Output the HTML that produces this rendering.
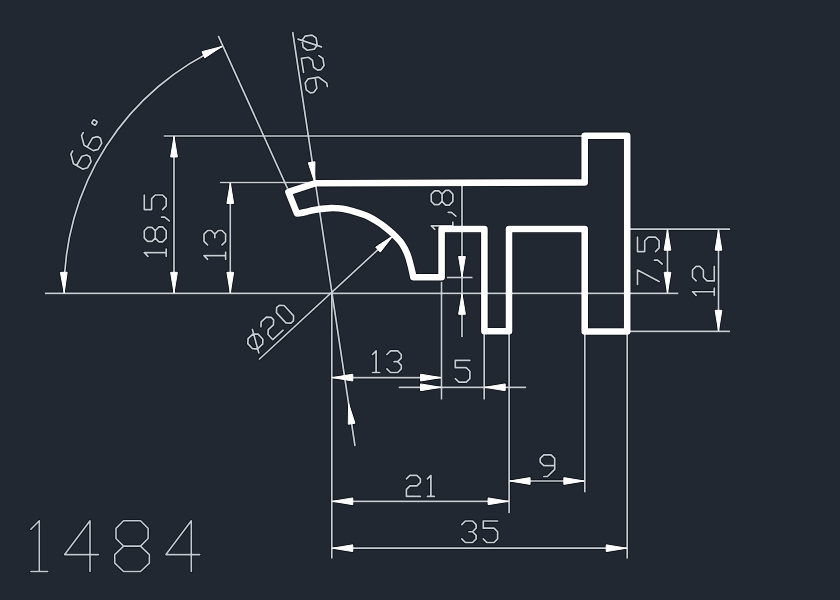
<!DOCTYPE html>
<html><head><meta charset="utf-8"><style>
html,body{margin:0;padding:0;background:#212832;}
body{width:840px;height:600px;overflow:hidden;font-family:"Liberation Sans",sans-serif;}
svg{display:block;}
</style></head><body>
<svg width="840" height="600" viewBox="0 0 840 600">
<rect width="840" height="600" fill="#212832"/>
<g><line x1="45.00" y1="293.30" x2="678.30" y2="293.30" stroke="#0b0e14" stroke-width="3.3"/>
<path d="M64.2,293.3 A266.5,266.5 0 0 1 222.5,46.25" fill="none" stroke="#0b0e14" stroke-width="3.3"/>
<path d="M64.19,292.80 L60.38,272.37 L67.18,272.24 Z" fill="#0b0e14" stroke="#0b0e14" stroke-width="2.6" stroke-linejoin="round"/>
<path d="M222.04,46.45 L204.69,57.89 L201.93,51.67 Z" fill="#0b0e14" stroke="#0b0e14" stroke-width="2.6" stroke-linejoin="round"/>
<line x1="218.30" y1="35.80" x2="287.60" y2="188.60" stroke="#0b0e14" stroke-width="3.3"/>
<path d="M72.62,150.98 L70.85,154.05 L73.45,163.75 L82.67,169.07 L87.52,167.78 L91.07,161.63 L89.77,156.78 L86.70,155.00 L81.85,156.30 L76.52,165.52 M83.28,132.53 L81.50,135.60 L84.10,145.30 L93.32,150.63 L98.17,149.33 L101.72,143.18 L100.42,138.33 L97.35,136.56 L92.50,137.86 L87.17,147.08 M91.88,122.74 L93.41,120.10 L94.23,119.88 L96.87,121.40 L97.09,122.23 L95.57,124.87 L94.74,125.09 L92.10,123.57 L91.88,122.74" fill="none" stroke="#0b0e14" stroke-width="3.3" stroke-linejoin="round" stroke-linecap="round"/>
<line x1="292.70" y1="32.00" x2="355.00" y2="446.00" stroke="#0b0e14" stroke-width="3.3"/>
<path d="M314.68,182.51 L308.26,162.74 L314.99,161.73 Z" fill="#0b0e14" stroke="#0b0e14" stroke-width="2.6" stroke-linejoin="round"/>
<path d="M348.57,403.49 L354.99,423.26 L348.26,424.27 Z" fill="#0b0e14" stroke="#0b0e14" stroke-width="2.6" stroke-linejoin="round"/>
<path d="M316.14,38.06 L317.24,45.07 L314.28,49.13 L307.27,50.23 L303.21,47.27 L302.11,40.25 L305.07,36.20 L312.09,35.10 L316.14,38.06 M297.98,39.10 L321.48,46.92 M318.89,55.59 L322.94,58.55 L324.04,65.57 L321.08,69.62 L317.58,70.17 L313.52,67.21 L312.42,60.20 L308.37,57.24 L301.35,58.34 L303.55,72.37 M327.34,86.61 L326.79,83.10 L318.68,77.19 L308.15,78.83 L305.20,82.89 L306.29,89.90 L310.35,92.86 L313.86,92.31 L316.82,88.26 L315.17,77.73" fill="none" stroke="#0b0e14" stroke-width="3.3" stroke-linejoin="round" stroke-linecap="round"/>
<line x1="393.40" y1="235.40" x2="259.00" y2="359.50" stroke="#0b0e14" stroke-width="3.3"/>
<path d="M393.03,235.74 L380.28,252.14 L375.66,247.15 Z" fill="#0b0e14" stroke="#0b0e14" stroke-width="2.6" stroke-linejoin="round"/>
<path d="M248.05,338.62 L253.21,333.89 L258.15,334.10 L262.88,339.26 L262.66,344.21 L257.50,348.94 L252.56,348.72 L247.83,343.56 L248.05,338.62 M258.81,352.96 L252.41,329.39 M260.95,326.79 L261.16,321.85 L266.32,317.12 L271.27,317.33 L273.63,319.92 L273.42,324.86 L268.26,329.59 L268.04,334.53 L272.77,339.70 L283.09,330.24 M276.65,307.66 L279.23,305.30 L284.17,305.51 L293.63,315.83 L293.41,320.78 L290.83,323.14 L285.89,322.93 L276.43,312.61 L276.65,307.66" fill="none" stroke="#0b0e14" stroke-width="3.3" stroke-linejoin="round" stroke-linecap="round"/>
<line x1="163.75" y1="136.00" x2="582.00" y2="136.00" stroke="#0b0e14" stroke-width="3.3"/>
<line x1="174.00" y1="136.00" x2="174.00" y2="293.30" stroke="#0b0e14" stroke-width="3.3"/>
<path d="M174.00,136.50 L177.40,157.00 L170.60,157.00 Z" fill="#0b0e14" stroke="#0b0e14" stroke-width="2.6" stroke-linejoin="round"/>
<path d="M174.00,292.80 L170.60,272.30 L177.40,272.30 Z" fill="#0b0e14" stroke="#0b0e14" stroke-width="2.6" stroke-linejoin="round"/>
<path d="M147.95,256.30 L144.30,252.65 L166.20,252.65 M166.20,256.30 L166.20,249.00 M155.25,238.05 L151.97,241.34 L147.59,241.34 L144.30,238.05 L144.30,230.75 L147.59,227.47 L151.97,227.47 L155.25,230.75 L155.25,238.05 L158.90,241.88 L162.55,241.88 L166.20,238.05 L166.20,230.75 L162.55,226.92 L158.90,226.92 L155.25,230.75 M161.46,217.06 L164.74,217.06 L169.30,220.90 M144.30,194.98 L144.30,209.58 L151.60,209.58 L151.60,198.63 L155.25,194.98 L162.55,194.98 L166.20,198.63 L166.20,205.93 L162.55,209.58" fill="none" stroke="#0b0e14" stroke-width="3.3" stroke-linejoin="round" stroke-linecap="round"/>
<line x1="220.00" y1="182.50" x2="314.00" y2="182.50" stroke="#0b0e14" stroke-width="3.3"/>
<line x1="230.30" y1="182.50" x2="230.30" y2="293.30" stroke="#0b0e14" stroke-width="3.3"/>
<path d="M230.30,183.00 L233.70,203.50 L226.90,203.50 Z" fill="#0b0e14" stroke="#0b0e14" stroke-width="2.6" stroke-linejoin="round"/>
<path d="M230.30,292.80 L226.90,272.30 L233.70,272.30 Z" fill="#0b0e14" stroke="#0b0e14" stroke-width="2.6" stroke-linejoin="round"/>
<path d="M207.60,259.30 L204.00,255.70 L225.60,255.70 M225.60,259.30 L225.60,252.10 M207.60,244.90 L204.00,241.30 L204.00,234.10 L207.60,230.50 L211.20,230.50 L214.80,234.10 L218.40,230.50 L222.00,230.50 L225.60,234.10 L225.60,241.30 L222.00,244.90 M214.80,237.70 L214.80,234.10" fill="none" stroke="#0b0e14" stroke-width="3.3" stroke-linejoin="round" stroke-linecap="round"/>
<line x1="446.90" y1="277.50" x2="472.50" y2="277.50" stroke="#0b0e14" stroke-width="3.3"/>
<line x1="462.00" y1="185.00" x2="462.00" y2="336.90" stroke="#0b0e14" stroke-width="3.3"/>
<path d="M462.00,277.00 L458.60,256.50 L465.40,256.50 Z" fill="#0b0e14" stroke="#0b0e14" stroke-width="2.6" stroke-linejoin="round"/>
<path d="M462.00,293.80 L465.40,314.30 L458.60,314.30 Z" fill="#0b0e14" stroke="#0b0e14" stroke-width="2.6" stroke-linejoin="round"/>
<path d="M434.85,229.40 L431.25,225.80 L452.85,225.80 M452.85,229.40 L452.85,222.20 M448.17,212.30 L451.41,212.30 L455.91,216.08 M442.05,201.32 L438.81,204.56 L434.49,204.56 L431.25,201.32 L431.25,194.12 L434.49,190.88 L438.81,190.88 L442.05,194.12 L442.05,201.32 L445.65,205.10 L449.25,205.10 L452.85,201.32 L452.85,194.12 L449.25,190.34 L445.65,190.34 L442.05,194.12" fill="none" stroke="#0b0e14" stroke-width="3.3" stroke-linejoin="round" stroke-linecap="round"/>
<line x1="629.40" y1="229.20" x2="730.00" y2="229.20" stroke="#0b0e14" stroke-width="3.3"/>
<line x1="630.00" y1="331.30" x2="730.00" y2="331.30" stroke="#0b0e14" stroke-width="3.3"/>
<line x1="667.50" y1="229.20" x2="667.50" y2="293.30" stroke="#0b0e14" stroke-width="3.3"/>
<path d="M667.50,229.70 L670.90,250.20 L664.10,250.20 Z" fill="#0b0e14" stroke="#0b0e14" stroke-width="2.6" stroke-linejoin="round"/>
<path d="M667.50,292.80 L664.10,272.30 L670.90,272.30 Z" fill="#0b0e14" stroke="#0b0e14" stroke-width="2.6" stroke-linejoin="round"/>
<path d="M637.50,284.50 L637.50,270.10 L659.10,281.62 M654.42,260.20 L657.66,260.20 L662.16,263.98 M637.50,237.16 L637.50,251.56 L644.70,251.56 L644.70,240.76 L648.30,237.16 L655.50,237.16 L659.10,240.76 L659.10,247.96 L655.50,251.56" fill="none" stroke="#0b0e14" stroke-width="3.3" stroke-linejoin="round" stroke-linecap="round"/>
<line x1="718.50" y1="229.20" x2="718.50" y2="331.30" stroke="#0b0e14" stroke-width="3.3"/>
<path d="M718.50,229.70 L721.90,250.20 L715.10,250.20 Z" fill="#0b0e14" stroke="#0b0e14" stroke-width="2.6" stroke-linejoin="round"/>
<path d="M718.50,330.80 L715.10,310.30 L721.90,310.30 Z" fill="#0b0e14" stroke="#0b0e14" stroke-width="2.6" stroke-linejoin="round"/>
<path d="M696.13,295.40 L692.50,291.77 L714.28,291.77 M714.28,295.40 L714.28,288.14 M696.13,280.88 L692.50,277.25 L692.50,269.99 L696.13,266.36 L699.76,266.36 L703.39,269.99 L703.39,277.25 L707.02,280.88 L714.28,280.88 L714.28,266.36" fill="none" stroke="#0b0e14" stroke-width="3.3" stroke-linejoin="round" stroke-linecap="round"/>
<line x1="331.80" y1="293.30" x2="331.80" y2="558.60" stroke="#0b0e14" stroke-width="3.3"/>
<line x1="441.50" y1="281.90" x2="441.50" y2="399.50" stroke="#0b0e14" stroke-width="3.3"/>
<line x1="484.20" y1="334.00" x2="484.20" y2="399.50" stroke="#0b0e14" stroke-width="3.3"/>
<line x1="509.10" y1="334.00" x2="509.10" y2="512.90" stroke="#0b0e14" stroke-width="3.3"/>
<line x1="584.80" y1="334.00" x2="584.80" y2="492.30" stroke="#0b0e14" stroke-width="3.3"/>
<line x1="627.20" y1="334.00" x2="627.20" y2="558.60" stroke="#0b0e14" stroke-width="3.3"/>
<line x1="331.80" y1="377.60" x2="441.50" y2="377.60" stroke="#0b0e14" stroke-width="3.3"/>
<path d="M332.30,377.60 L352.80,374.20 L352.80,381.00 Z" fill="#0b0e14" stroke="#0b0e14" stroke-width="2.6" stroke-linejoin="round"/>
<path d="M441.00,377.60 L420.50,381.00 L420.50,374.20 Z" fill="#0b0e14" stroke="#0b0e14" stroke-width="2.6" stroke-linejoin="round"/>
<path d="M372.50,354.50 L376.10,350.90 L376.10,372.50 M372.50,372.50 L379.70,372.50 M386.90,354.50 L390.50,350.90 L397.70,350.90 L401.30,354.50 L401.30,358.10 L397.70,361.70 L401.30,365.30 L401.30,368.90 L397.70,372.50 L390.50,372.50 L386.90,368.90 M394.10,361.70 L397.70,361.70" fill="none" stroke="#0b0e14" stroke-width="3.3" stroke-linejoin="round" stroke-linecap="round"/>
<line x1="398.75" y1="387.30" x2="526.00" y2="387.30" stroke="#0b0e14" stroke-width="3.3"/>
<path d="M441.00,387.30 L420.50,390.70 L420.50,383.90 Z" fill="#0b0e14" stroke="#0b0e14" stroke-width="2.6" stroke-linejoin="round"/>
<path d="M484.70,387.30 L505.20,383.90 L505.20,390.70 Z" fill="#0b0e14" stroke="#0b0e14" stroke-width="2.6" stroke-linejoin="round"/>
<path d="M469.90,360.30 L455.30,360.30 L455.30,367.60 L466.25,367.60 L469.90,371.25 L469.90,378.55 L466.25,382.20 L458.95,382.20 L455.30,378.55" fill="none" stroke="#0b0e14" stroke-width="3.3" stroke-linejoin="round" stroke-linecap="round"/>
<line x1="509.10" y1="481.00" x2="584.80" y2="481.00" stroke="#0b0e14" stroke-width="3.3"/>
<path d="M509.60,481.00 L530.10,477.60 L530.10,484.40 Z" fill="#0b0e14" stroke="#0b0e14" stroke-width="2.6" stroke-linejoin="round"/>
<path d="M584.30,481.00 L563.80,484.40 L563.80,477.60 Z" fill="#0b0e14" stroke="#0b0e14" stroke-width="2.6" stroke-linejoin="round"/>
<path d="M543.82,476.52 L547.44,476.52 L554.68,469.28 L554.68,458.42 L551.06,454.80 L543.82,454.80 L540.20,458.42 L540.20,462.04 L543.82,465.66 L554.68,465.66" fill="none" stroke="#0b0e14" stroke-width="3.3" stroke-linejoin="round" stroke-linecap="round"/>
<line x1="331.80" y1="501.30" x2="509.10" y2="501.30" stroke="#0b0e14" stroke-width="3.3"/>
<path d="M332.30,501.30 L352.80,497.90 L352.80,504.70 Z" fill="#0b0e14" stroke="#0b0e14" stroke-width="2.6" stroke-linejoin="round"/>
<path d="M508.60,501.30 L488.10,504.70 L488.10,497.90 Z" fill="#0b0e14" stroke="#0b0e14" stroke-width="2.6" stroke-linejoin="round"/>
<path d="M406.40,478.90 L409.90,475.40 L416.90,475.40 L420.40,478.90 L420.40,482.40 L416.90,485.90 L409.90,485.90 L406.40,489.40 L406.40,496.40 L420.40,496.40 M427.40,478.90 L430.90,475.40 L430.90,496.40 M427.40,496.40 L434.40,496.40" fill="none" stroke="#0b0e14" stroke-width="3.3" stroke-linejoin="round" stroke-linecap="round"/>
<line x1="331.80" y1="548.20" x2="627.20" y2="548.20" stroke="#0b0e14" stroke-width="3.3"/>
<path d="M332.30,548.20 L352.80,544.80 L352.80,551.60 Z" fill="#0b0e14" stroke="#0b0e14" stroke-width="2.6" stroke-linejoin="round"/>
<path d="M626.70,548.20 L606.20,551.60 L606.20,544.80 Z" fill="#0b0e14" stroke="#0b0e14" stroke-width="2.6" stroke-linejoin="round"/>
<path d="M461.80,524.58 L465.38,521.00 L472.54,521.00 L476.12,524.58 L476.12,528.16 L472.54,531.74 L476.12,535.32 L476.12,538.90 L472.54,542.48 L465.38,542.48 L461.80,538.90 M468.96,531.74 L472.54,531.74 M497.60,521.00 L483.28,521.00 L483.28,528.16 L494.02,528.16 L497.60,531.74 L497.60,538.90 L494.02,542.48 L486.86,542.48 L483.28,538.90" fill="none" stroke="#0b0e14" stroke-width="3.3" stroke-linejoin="round" stroke-linecap="round"/>
<path d="M30.85,529.25 L39.30,520.80 L39.30,571.50 M30.85,571.50 L47.75,571.50" fill="none" stroke="#0b0e14" stroke-width="3.2" stroke-linejoin="round" stroke-linecap="round"/>
<path d="M90.00,571.50 L90.00,520.80 L64.65,554.60 L98.45,554.60" fill="none" stroke="#0b0e14" stroke-width="3.2" stroke-linejoin="round" stroke-linecap="round"/>
<path d="M123.60,546.15 L116.00,538.54 L116.00,528.40 L123.60,520.80 L140.50,520.80 L148.11,528.40 L148.11,538.54 L140.50,546.15 L123.60,546.15 L114.73,554.60 L114.73,563.05 L123.60,571.50 L140.50,571.50 L149.37,563.05 L149.37,554.60 L140.50,546.15" fill="none" stroke="#0b0e14" stroke-width="3.2" stroke-linejoin="round" stroke-linecap="round"/>
<path d="M191.30,571.50 L191.30,520.80 L165.95,554.60 L199.75,554.60" fill="none" stroke="#0b0e14" stroke-width="3.2" stroke-linejoin="round" stroke-linecap="round"/>
<path d="M315,183.3 L584.7,182.4 L584.7,135.7 L627.2,135.7 L627.2,331.5 L584.7,331.5 L584.7,229.0 L509.0,229.0 L509.0,331.3 L484.4,331.3 L484.4,229.0 L441.6,229.0 L441.6,277.2 L413.3,277.2  C413.22,276.75 413.25,276.53 412.8,274.5 C412.35,272.47 411.52,268.42 410.6,265 C409.68,261.58 408.78,257.62 407.3,254 C405.82,250.38 404.03,246.60 401.7,243.3 C399.37,240.00 396.08,236.90 393.3,234.2 C390.52,231.50 387.77,229.25 385,227.1 C382.23,224.95 379.48,223.07 376.7,221.3 C373.92,219.53 371.08,217.82 368.3,216.5 C365.52,215.18 362.88,214.38 360,213.4 C357.12,212.42 353.90,211.38 351,210.6 C348.10,209.82 344.98,209.10 342.6,208.7 C340.22,208.30 338.68,208.30 336.7,208.2 C334.72,208.10 332.68,208.03 330.7,208.1 C328.72,208.17 326.78,208.40 324.8,208.6 C322.82,208.80 320.78,209.02 318.8,209.3 C316.82,209.58 314.88,209.90 312.9,210.3 C310.92,210.70 308.88,211.25 306.9,211.7 C304.92,212.15 302.65,212.70 301,213.0 C299.35,213.30 297.67,213.42 297.0,213.5 L288.4,192 Z" fill="none" stroke="#0b0e14" stroke-width="8.2" stroke-linejoin="round"/></g>
<g><line x1="45.00" y1="293.30" x2="678.30" y2="293.30" stroke="#c9cfd7" stroke-width="1.7"/>
<path d="M64.2,293.3 A266.5,266.5 0 0 1 222.5,46.25" fill="none" stroke="#c9cfd7" stroke-width="1.7"/>
<path d="M64.19,292.80 L60.38,272.37 L67.18,272.24 Z" fill="#ffffff" stroke="#ffffff" stroke-width="1" stroke-linejoin="round"/>
<path d="M222.04,46.45 L204.69,57.89 L201.93,51.67 Z" fill="#ffffff" stroke="#ffffff" stroke-width="1" stroke-linejoin="round"/>
<line x1="218.30" y1="35.80" x2="287.60" y2="188.60" stroke="#c9cfd7" stroke-width="1.7"/>
<path d="M72.62,150.98 L70.85,154.05 L73.45,163.75 L82.67,169.07 L87.52,167.78 L91.07,161.63 L89.77,156.78 L86.70,155.00 L81.85,156.30 L76.52,165.52 M83.28,132.53 L81.50,135.60 L84.10,145.30 L93.32,150.63 L98.17,149.33 L101.72,143.18 L100.42,138.33 L97.35,136.56 L92.50,137.86 L87.17,147.08 M91.88,122.74 L93.41,120.10 L94.23,119.88 L96.87,121.40 L97.09,122.23 L95.57,124.87 L94.74,125.09 L92.10,123.57 L91.88,122.74" fill="none" stroke="#c9cfd7" stroke-width="1.7" stroke-linejoin="round" stroke-linecap="round"/>
<line x1="292.70" y1="32.00" x2="355.00" y2="446.00" stroke="#c9cfd7" stroke-width="1.7"/>
<path d="M314.68,182.51 L308.26,162.74 L314.99,161.73 Z" fill="#ffffff" stroke="#ffffff" stroke-width="1" stroke-linejoin="round"/>
<path d="M348.57,403.49 L354.99,423.26 L348.26,424.27 Z" fill="#ffffff" stroke="#ffffff" stroke-width="1" stroke-linejoin="round"/>
<path d="M316.14,38.06 L317.24,45.07 L314.28,49.13 L307.27,50.23 L303.21,47.27 L302.11,40.25 L305.07,36.20 L312.09,35.10 L316.14,38.06 M297.98,39.10 L321.48,46.92 M318.89,55.59 L322.94,58.55 L324.04,65.57 L321.08,69.62 L317.58,70.17 L313.52,67.21 L312.42,60.20 L308.37,57.24 L301.35,58.34 L303.55,72.37 M327.34,86.61 L326.79,83.10 L318.68,77.19 L308.15,78.83 L305.20,82.89 L306.29,89.90 L310.35,92.86 L313.86,92.31 L316.82,88.26 L315.17,77.73" fill="none" stroke="#c9cfd7" stroke-width="1.7" stroke-linejoin="round" stroke-linecap="round"/>
<line x1="393.40" y1="235.40" x2="259.00" y2="359.50" stroke="#c9cfd7" stroke-width="1.7"/>
<path d="M393.03,235.74 L380.28,252.14 L375.66,247.15 Z" fill="#ffffff" stroke="#ffffff" stroke-width="1" stroke-linejoin="round"/>
<path d="M248.05,338.62 L253.21,333.89 L258.15,334.10 L262.88,339.26 L262.66,344.21 L257.50,348.94 L252.56,348.72 L247.83,343.56 L248.05,338.62 M258.81,352.96 L252.41,329.39 M260.95,326.79 L261.16,321.85 L266.32,317.12 L271.27,317.33 L273.63,319.92 L273.42,324.86 L268.26,329.59 L268.04,334.53 L272.77,339.70 L283.09,330.24 M276.65,307.66 L279.23,305.30 L284.17,305.51 L293.63,315.83 L293.41,320.78 L290.83,323.14 L285.89,322.93 L276.43,312.61 L276.65,307.66" fill="none" stroke="#c9cfd7" stroke-width="1.7" stroke-linejoin="round" stroke-linecap="round"/>
<line x1="163.75" y1="136.00" x2="582.00" y2="136.00" stroke="#c9cfd7" stroke-width="1.7"/>
<line x1="174.00" y1="136.00" x2="174.00" y2="293.30" stroke="#c9cfd7" stroke-width="1.7"/>
<path d="M174.00,136.50 L177.40,157.00 L170.60,157.00 Z" fill="#ffffff" stroke="#ffffff" stroke-width="1" stroke-linejoin="round"/>
<path d="M174.00,292.80 L170.60,272.30 L177.40,272.30 Z" fill="#ffffff" stroke="#ffffff" stroke-width="1" stroke-linejoin="round"/>
<path d="M147.95,256.30 L144.30,252.65 L166.20,252.65 M166.20,256.30 L166.20,249.00 M155.25,238.05 L151.97,241.34 L147.59,241.34 L144.30,238.05 L144.30,230.75 L147.59,227.47 L151.97,227.47 L155.25,230.75 L155.25,238.05 L158.90,241.88 L162.55,241.88 L166.20,238.05 L166.20,230.75 L162.55,226.92 L158.90,226.92 L155.25,230.75 M161.46,217.06 L164.74,217.06 L169.30,220.90 M144.30,194.98 L144.30,209.58 L151.60,209.58 L151.60,198.63 L155.25,194.98 L162.55,194.98 L166.20,198.63 L166.20,205.93 L162.55,209.58" fill="none" stroke="#c9cfd7" stroke-width="1.7" stroke-linejoin="round" stroke-linecap="round"/>
<line x1="220.00" y1="182.50" x2="314.00" y2="182.50" stroke="#c9cfd7" stroke-width="1.7"/>
<line x1="230.30" y1="182.50" x2="230.30" y2="293.30" stroke="#c9cfd7" stroke-width="1.7"/>
<path d="M230.30,183.00 L233.70,203.50 L226.90,203.50 Z" fill="#ffffff" stroke="#ffffff" stroke-width="1" stroke-linejoin="round"/>
<path d="M230.30,292.80 L226.90,272.30 L233.70,272.30 Z" fill="#ffffff" stroke="#ffffff" stroke-width="1" stroke-linejoin="round"/>
<path d="M207.60,259.30 L204.00,255.70 L225.60,255.70 M225.60,259.30 L225.60,252.10 M207.60,244.90 L204.00,241.30 L204.00,234.10 L207.60,230.50 L211.20,230.50 L214.80,234.10 L218.40,230.50 L222.00,230.50 L225.60,234.10 L225.60,241.30 L222.00,244.90 M214.80,237.70 L214.80,234.10" fill="none" stroke="#c9cfd7" stroke-width="1.7" stroke-linejoin="round" stroke-linecap="round"/>
<line x1="446.90" y1="277.50" x2="472.50" y2="277.50" stroke="#c9cfd7" stroke-width="1.7"/>
<line x1="462.00" y1="185.00" x2="462.00" y2="336.90" stroke="#c9cfd7" stroke-width="1.7"/>
<path d="M462.00,277.00 L458.60,256.50 L465.40,256.50 Z" fill="#ffffff" stroke="#ffffff" stroke-width="1" stroke-linejoin="round"/>
<path d="M462.00,293.80 L465.40,314.30 L458.60,314.30 Z" fill="#ffffff" stroke="#ffffff" stroke-width="1" stroke-linejoin="round"/>
<path d="M434.85,229.40 L431.25,225.80 L452.85,225.80 M452.85,229.40 L452.85,222.20 M448.17,212.30 L451.41,212.30 L455.91,216.08 M442.05,201.32 L438.81,204.56 L434.49,204.56 L431.25,201.32 L431.25,194.12 L434.49,190.88 L438.81,190.88 L442.05,194.12 L442.05,201.32 L445.65,205.10 L449.25,205.10 L452.85,201.32 L452.85,194.12 L449.25,190.34 L445.65,190.34 L442.05,194.12" fill="none" stroke="#c9cfd7" stroke-width="1.7" stroke-linejoin="round" stroke-linecap="round"/>
<line x1="629.40" y1="229.20" x2="730.00" y2="229.20" stroke="#c9cfd7" stroke-width="1.7"/>
<line x1="630.00" y1="331.30" x2="730.00" y2="331.30" stroke="#c9cfd7" stroke-width="1.7"/>
<line x1="667.50" y1="229.20" x2="667.50" y2="293.30" stroke="#c9cfd7" stroke-width="1.7"/>
<path d="M667.50,229.70 L670.90,250.20 L664.10,250.20 Z" fill="#ffffff" stroke="#ffffff" stroke-width="1" stroke-linejoin="round"/>
<path d="M667.50,292.80 L664.10,272.30 L670.90,272.30 Z" fill="#ffffff" stroke="#ffffff" stroke-width="1" stroke-linejoin="round"/>
<path d="M637.50,284.50 L637.50,270.10 L659.10,281.62 M654.42,260.20 L657.66,260.20 L662.16,263.98 M637.50,237.16 L637.50,251.56 L644.70,251.56 L644.70,240.76 L648.30,237.16 L655.50,237.16 L659.10,240.76 L659.10,247.96 L655.50,251.56" fill="none" stroke="#c9cfd7" stroke-width="1.7" stroke-linejoin="round" stroke-linecap="round"/>
<line x1="718.50" y1="229.20" x2="718.50" y2="331.30" stroke="#c9cfd7" stroke-width="1.7"/>
<path d="M718.50,229.70 L721.90,250.20 L715.10,250.20 Z" fill="#ffffff" stroke="#ffffff" stroke-width="1" stroke-linejoin="round"/>
<path d="M718.50,330.80 L715.10,310.30 L721.90,310.30 Z" fill="#ffffff" stroke="#ffffff" stroke-width="1" stroke-linejoin="round"/>
<path d="M696.13,295.40 L692.50,291.77 L714.28,291.77 M714.28,295.40 L714.28,288.14 M696.13,280.88 L692.50,277.25 L692.50,269.99 L696.13,266.36 L699.76,266.36 L703.39,269.99 L703.39,277.25 L707.02,280.88 L714.28,280.88 L714.28,266.36" fill="none" stroke="#c9cfd7" stroke-width="1.7" stroke-linejoin="round" stroke-linecap="round"/>
<line x1="331.80" y1="293.30" x2="331.80" y2="558.60" stroke="#c9cfd7" stroke-width="1.7"/>
<line x1="441.50" y1="281.90" x2="441.50" y2="399.50" stroke="#c9cfd7" stroke-width="1.7"/>
<line x1="484.20" y1="334.00" x2="484.20" y2="399.50" stroke="#c9cfd7" stroke-width="1.7"/>
<line x1="509.10" y1="334.00" x2="509.10" y2="512.90" stroke="#c9cfd7" stroke-width="1.7"/>
<line x1="584.80" y1="334.00" x2="584.80" y2="492.30" stroke="#c9cfd7" stroke-width="1.7"/>
<line x1="627.20" y1="334.00" x2="627.20" y2="558.60" stroke="#c9cfd7" stroke-width="1.7"/>
<line x1="331.80" y1="377.60" x2="441.50" y2="377.60" stroke="#c9cfd7" stroke-width="1.7"/>
<path d="M332.30,377.60 L352.80,374.20 L352.80,381.00 Z" fill="#ffffff" stroke="#ffffff" stroke-width="1" stroke-linejoin="round"/>
<path d="M441.00,377.60 L420.50,381.00 L420.50,374.20 Z" fill="#ffffff" stroke="#ffffff" stroke-width="1" stroke-linejoin="round"/>
<path d="M372.50,354.50 L376.10,350.90 L376.10,372.50 M372.50,372.50 L379.70,372.50 M386.90,354.50 L390.50,350.90 L397.70,350.90 L401.30,354.50 L401.30,358.10 L397.70,361.70 L401.30,365.30 L401.30,368.90 L397.70,372.50 L390.50,372.50 L386.90,368.90 M394.10,361.70 L397.70,361.70" fill="none" stroke="#c9cfd7" stroke-width="1.7" stroke-linejoin="round" stroke-linecap="round"/>
<line x1="398.75" y1="387.30" x2="526.00" y2="387.30" stroke="#c9cfd7" stroke-width="1.7"/>
<path d="M441.00,387.30 L420.50,390.70 L420.50,383.90 Z" fill="#ffffff" stroke="#ffffff" stroke-width="1" stroke-linejoin="round"/>
<path d="M484.70,387.30 L505.20,383.90 L505.20,390.70 Z" fill="#ffffff" stroke="#ffffff" stroke-width="1" stroke-linejoin="round"/>
<path d="M469.90,360.30 L455.30,360.30 L455.30,367.60 L466.25,367.60 L469.90,371.25 L469.90,378.55 L466.25,382.20 L458.95,382.20 L455.30,378.55" fill="none" stroke="#c9cfd7" stroke-width="1.7" stroke-linejoin="round" stroke-linecap="round"/>
<line x1="509.10" y1="481.00" x2="584.80" y2="481.00" stroke="#c9cfd7" stroke-width="1.7"/>
<path d="M509.60,481.00 L530.10,477.60 L530.10,484.40 Z" fill="#ffffff" stroke="#ffffff" stroke-width="1" stroke-linejoin="round"/>
<path d="M584.30,481.00 L563.80,484.40 L563.80,477.60 Z" fill="#ffffff" stroke="#ffffff" stroke-width="1" stroke-linejoin="round"/>
<path d="M543.82,476.52 L547.44,476.52 L554.68,469.28 L554.68,458.42 L551.06,454.80 L543.82,454.80 L540.20,458.42 L540.20,462.04 L543.82,465.66 L554.68,465.66" fill="none" stroke="#c9cfd7" stroke-width="1.7" stroke-linejoin="round" stroke-linecap="round"/>
<line x1="331.80" y1="501.30" x2="509.10" y2="501.30" stroke="#c9cfd7" stroke-width="1.7"/>
<path d="M332.30,501.30 L352.80,497.90 L352.80,504.70 Z" fill="#ffffff" stroke="#ffffff" stroke-width="1" stroke-linejoin="round"/>
<path d="M508.60,501.30 L488.10,504.70 L488.10,497.90 Z" fill="#ffffff" stroke="#ffffff" stroke-width="1" stroke-linejoin="round"/>
<path d="M406.40,478.90 L409.90,475.40 L416.90,475.40 L420.40,478.90 L420.40,482.40 L416.90,485.90 L409.90,485.90 L406.40,489.40 L406.40,496.40 L420.40,496.40 M427.40,478.90 L430.90,475.40 L430.90,496.40 M427.40,496.40 L434.40,496.40" fill="none" stroke="#c9cfd7" stroke-width="1.7" stroke-linejoin="round" stroke-linecap="round"/>
<line x1="331.80" y1="548.20" x2="627.20" y2="548.20" stroke="#c9cfd7" stroke-width="1.7"/>
<path d="M332.30,548.20 L352.80,544.80 L352.80,551.60 Z" fill="#ffffff" stroke="#ffffff" stroke-width="1" stroke-linejoin="round"/>
<path d="M626.70,548.20 L606.20,551.60 L606.20,544.80 Z" fill="#ffffff" stroke="#ffffff" stroke-width="1" stroke-linejoin="round"/>
<path d="M461.80,524.58 L465.38,521.00 L472.54,521.00 L476.12,524.58 L476.12,528.16 L472.54,531.74 L476.12,535.32 L476.12,538.90 L472.54,542.48 L465.38,542.48 L461.80,538.90 M468.96,531.74 L472.54,531.74 M497.60,521.00 L483.28,521.00 L483.28,528.16 L494.02,528.16 L497.60,531.74 L497.60,538.90 L494.02,542.48 L486.86,542.48 L483.28,538.90" fill="none" stroke="#c9cfd7" stroke-width="1.7" stroke-linejoin="round" stroke-linecap="round"/>
<path d="M30.85,529.25 L39.30,520.80 L39.30,571.50 M30.85,571.50 L47.75,571.50" fill="none" stroke="#c3cad3" stroke-width="1.6" stroke-linejoin="round" stroke-linecap="round"/>
<path d="M90.00,571.50 L90.00,520.80 L64.65,554.60 L98.45,554.60" fill="none" stroke="#c3cad3" stroke-width="1.6" stroke-linejoin="round" stroke-linecap="round"/>
<path d="M123.60,546.15 L116.00,538.54 L116.00,528.40 L123.60,520.80 L140.50,520.80 L148.11,528.40 L148.11,538.54 L140.50,546.15 L123.60,546.15 L114.73,554.60 L114.73,563.05 L123.60,571.50 L140.50,571.50 L149.37,563.05 L149.37,554.60 L140.50,546.15" fill="none" stroke="#c3cad3" stroke-width="1.6" stroke-linejoin="round" stroke-linecap="round"/>
<path d="M191.30,571.50 L191.30,520.80 L165.95,554.60 L199.75,554.60" fill="none" stroke="#c3cad3" stroke-width="1.6" stroke-linejoin="round" stroke-linecap="round"/>
<path d="M315,183.3 L584.7,182.4 L584.7,135.7 L627.2,135.7 L627.2,331.5 L584.7,331.5 L584.7,229.0 L509.0,229.0 L509.0,331.3 L484.4,331.3 L484.4,229.0 L441.6,229.0 L441.6,277.2 L413.3,277.2  C413.22,276.75 413.25,276.53 412.8,274.5 C412.35,272.47 411.52,268.42 410.6,265 C409.68,261.58 408.78,257.62 407.3,254 C405.82,250.38 404.03,246.60 401.7,243.3 C399.37,240.00 396.08,236.90 393.3,234.2 C390.52,231.50 387.77,229.25 385,227.1 C382.23,224.95 379.48,223.07 376.7,221.3 C373.92,219.53 371.08,217.82 368.3,216.5 C365.52,215.18 362.88,214.38 360,213.4 C357.12,212.42 353.90,211.38 351,210.6 C348.10,209.82 344.98,209.10 342.6,208.7 C340.22,208.30 338.68,208.30 336.7,208.2 C334.72,208.10 332.68,208.03 330.7,208.1 C328.72,208.17 326.78,208.40 324.8,208.6 C322.82,208.80 320.78,209.02 318.8,209.3 C316.82,209.58 314.88,209.90 312.9,210.3 C310.92,210.70 308.88,211.25 306.9,211.7 C304.92,212.15 302.65,212.70 301,213.0 C299.35,213.30 297.67,213.42 297.0,213.5 L288.4,192 Z" fill="none" stroke="#ffffff" stroke-width="6.6" stroke-linejoin="round"/></g>
</svg>
</body></html>
